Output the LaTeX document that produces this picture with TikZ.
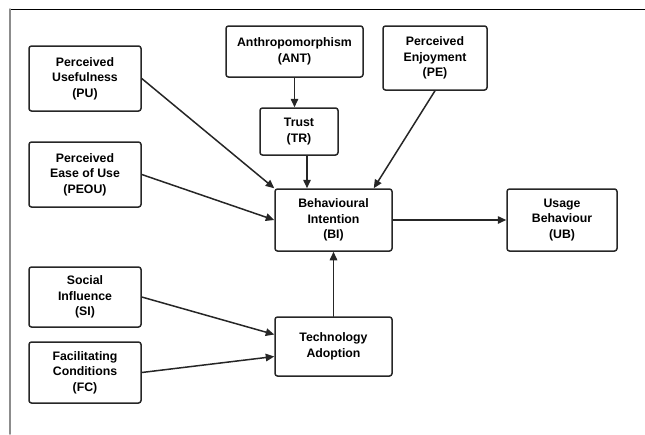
\documentclass[tikz,border=0pt]{standalone}
\usepackage{fontspec}
\setmainfont{Liberation Sans}
\usetikzlibrary{arrows.meta}

\begin{document}
\begin{tikzpicture}[x=1pt, y=-1pt, line join = round, line cap = round,
    construct/.style={draw=black!85, line width=1.5pt, rounded corners=2.5pt,
        align=center, inner sep=0pt, font=\fontsize{12.3}{15.5}\selectfont\bfseries},
    link/.style={-{Triangle[length=8.5pt,width=7.5pt]}, line width=1.5pt, draw=black!85}]
    \useasboundingbox (0,0) rectangle (645,434);

    % frame
    \draw[black, line width=0.8pt] (10,9) -- (645,9);
    \draw[black!45, line width=1.5pt] (10,9) -- (10,434);

    \node[construct, minimum width=112, minimum height=65] (PU) at (85,78.5) {Perceived\\Usefulness\\(PU)};
    \node[construct, minimum width=112, minimum height=65] (PEOU) at (85,174.5) {Perceived\\Ease of Use\\(PEOU)};
    \node[construct, minimum width=112, minimum height=60] (SI) at (85,297) {Social\\Influence\\(SI)};
    \node[construct, minimum width=112, minimum height=61] (FC) at (85,372.5) {Facilitating\\Conditions\\(FC)};

    \node[construct, minimum width=137, minimum height=51] (ANT) at (294.5,51.5) {Anthropomorphism\\(ANT)};
    \node[construct, minimum width=78, minimum height=47] (TR) at (299,131.5) {Trust\\(TR)};
    \node[construct, minimum width=104, minimum height=64] (PE) at (435,58) {Perceived\\Enjoyment\\(PE)};

    \node[construct, minimum width=117, minimum height=62] (BI) at (333.5,220) {Behavioural\\Intention\\(BI)};
    \node[construct, minimum width=110, minimum height=62] (UB) at (562,220) {Usage\\Behaviour\\(UB)};
    \node[construct, minimum width=117, minimum height=59] (TA) at (333.5,346.5) {Technology\\Adoption};

    \coordinate (BIpe) at ([xshift=-19pt]BI.north east);

    \draw[link] (ANT.south) -- (ANT.south |- TR.north);
    \draw[link] ([xshift=8pt]TR.south) -- ([xshift=8pt]TR.south |- BI.north);
    \draw[link] (PU.east) -- (BI.north west);
    \draw[link] (PEOU.east) -- (BI.west);
    \draw[link] (PE.south) -- (BIpe);
    \draw[link] (BI.east) -- (UB.west);
    \draw[link] (TA.north) -- (BI.south);
    \draw[link] (SI.east) -- ([yshift=12pt]TA.west);
    \draw[link] (FC.east) -- ([yshift=-10pt]TA.west);
\end{tikzpicture}
\end{document}
